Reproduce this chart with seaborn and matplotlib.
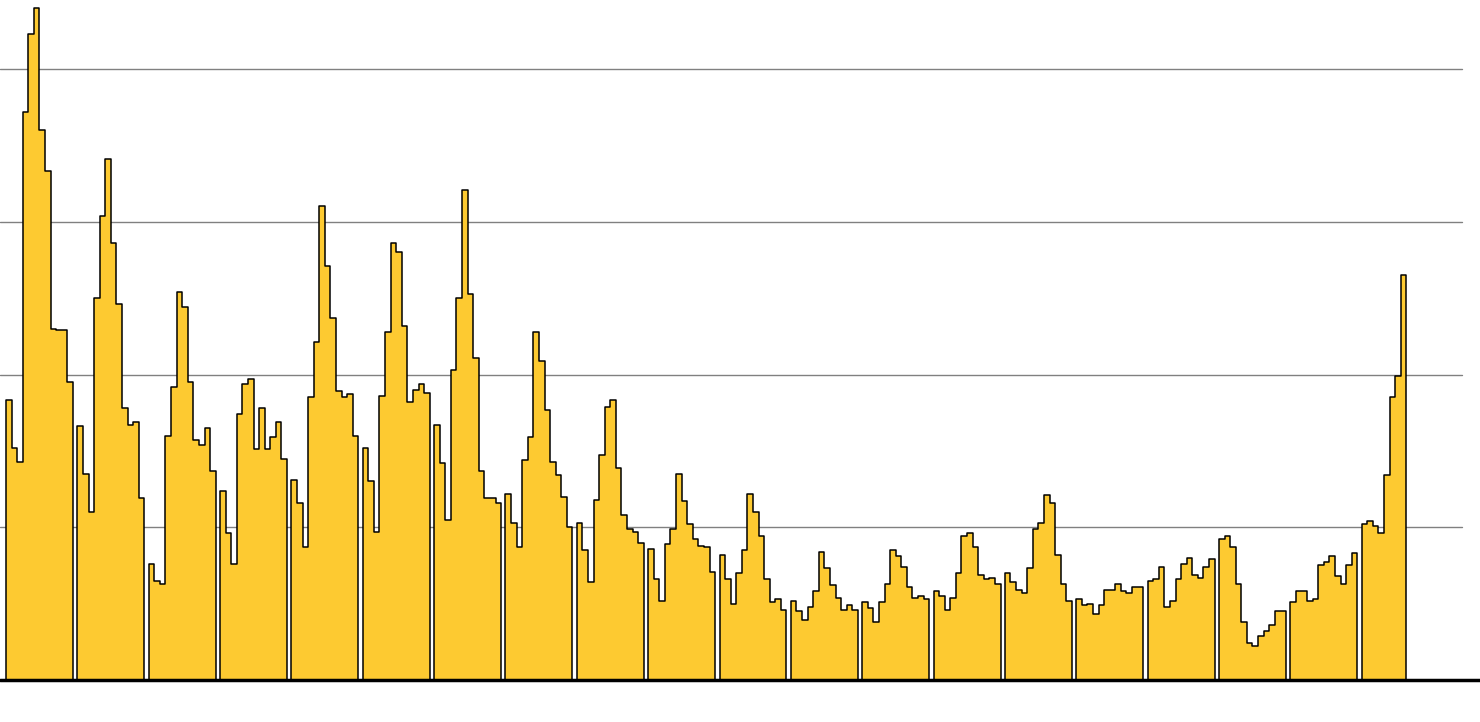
import matplotlib
matplotlib.use("Agg")
import matplotlib.pyplot as plt
import numpy as np
import pandas as pd
import seaborn as sns

# monthly values, one list per year (last year is partial)
YEAR_VALUES = [
    [1.83, 1.52, 1.43, 3.72, 4.23, 4.40, 3.60, 3.33, 2.30, 2.29, 2.29, 1.95],
    [1.66, 1.35, 1.10, 2.50, 3.04, 3.41, 2.86, 2.46, 1.78, 1.67, 1.69, 1.19],
    [0.76, 0.65, 0.63, 1.60, 1.92, 2.54, 2.44, 1.95, 1.57, 1.54, 1.65, 1.37],
    [1.24, 0.96, 0.76, 1.74, 1.94, 1.97, 1.51, 1.78, 1.51, 1.59, 1.69, 1.45],
    [1.31, 1.16, 0.87, 1.85, 2.21, 3.10, 2.71, 2.37, 1.89, 1.85, 1.87, 1.60],
    [1.52, 1.30, 0.97, 1.86, 2.28, 2.86, 2.80, 2.32, 1.82, 1.90, 1.94, 1.88],
    [1.67, 1.42, 1.05, 2.03, 2.50, 3.21, 2.53, 2.11, 1.37, 1.19, 1.19, 1.16],
    [1.22, 1.03, 0.87, 1.44, 1.59, 2.28, 2.09, 1.77, 1.43, 1.34, 1.20, 1.00],
    [1.03, 0.85, 0.64, 1.18, 1.47, 1.79, 1.83, 1.39, 1.08, 0.99, 0.97, 0.90],
    [0.86, 0.66, 0.52, 0.89, 0.99, 1.35, 1.17, 1.02, 0.92, 0.88, 0.87, 0.71],
    [0.82, 0.66, 0.50, 0.70, 0.85, 1.22, 1.10, 0.94, 0.66, 0.51, 0.53, 0.46],
    [0.52, 0.45, 0.39, 0.48, 0.58, 0.84, 0.73, 0.62, 0.54, 0.46, 0.49, 0.46],
    [0.51, 0.47, 0.38, 0.51, 0.63, 0.85, 0.81, 0.74, 0.61, 0.54, 0.55, 0.53],
    [0.58, 0.55, 0.46, 0.54, 0.70, 0.94, 0.96, 0.87, 0.69, 0.66, 0.67, 0.63],
    [0.70, 0.64, 0.59, 0.57, 0.73, 0.99, 1.03, 1.21, 1.16, 0.82, 0.63, 0.52],
    [0.53, 0.49, 0.50, 0.43, 0.49, 0.59, 0.59, 0.63, 0.58, 0.57, 0.61, 0.61],
    [0.65, 0.66, 0.74, 0.48, 0.52, 0.66, 0.76, 0.80, 0.69, 0.67, 0.74, 0.79],
    [0.92, 0.94, 0.87, 0.63, 0.38, 0.24, 0.22, 0.29, 0.32, 0.36, 0.45, 0.45],
    [0.51, 0.58, 0.58, 0.52, 0.53, 0.75, 0.77, 0.81, 0.68, 0.63, 0.75, 0.83],
    [1.02, 1.04, 1.01, 0.96, 1.34, 1.85, 1.99, 2.65],
]
GRID_LEVELS = [1, 2, 3, 4]

FILL = "#FDCA31"
YEAR_WIDTH = 0.939  # share of each year slot that is drawn

rows = []
for yi, vals in enumerate(YEAR_VALUES):
    for m, v in enumerate(vals):
        rows.append({"year": yi, "month": m, "value": v})
df = pd.DataFrame(rows)

sns.set_style("white")
fig = plt.figure(figsize=(14.8, 7.22), dpi=100)
ax = fig.add_axes([0, 0, 1, 1])

x_min, x_max = -6 / 71.35, (1480 - 6) / 71.35
ax.set_xlim(x_min, x_max)
ax.set_ylim(-42 / 152.75, 680 / 152.75)

grid_end = ((1462 - 6) / 71.35 - x_min) / (x_max - x_min)
for lvl in GRID_LEVELS:
    ax.axhline(lvl, xmin=0, xmax=grid_end, color="#808080", lw=1, zorder=1)

for yi, g in df.groupby("year"):
    vals = g["value"].to_numpy()
    edges = yi + np.arange(len(vals) + 1) * YEAR_WIDTH / 12
    ys = np.append(vals, vals[-1])
    ax.fill_between(edges, ys, 0, step="post", color=FILL, lw=0, zorder=2)
    ox = np.concatenate([[edges[0]], edges, [edges[-1]]])
    oy = np.concatenate([[0], ys, [0]])
    ax.plot(ox, oy, drawstyle="steps-post", color="black", lw=1.1, zorder=3)

ax.axhline(0, color="black", lw=2.5, zorder=4)

ax.set_axis_off()
fig.savefig("out.png", dpi=100)
